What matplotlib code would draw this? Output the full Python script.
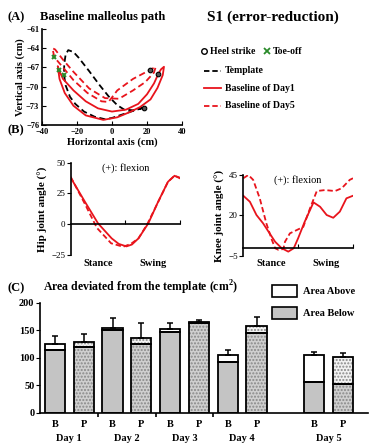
import matplotlib
matplotlib.use("Agg")
import matplotlib.pyplot as plt
from matplotlib.lines import Line2D
from matplotlib.patches import Rectangle
import numpy as np

plt.rcParams['font.family'] = ['Liberation Serif', 'DejaVu Serif']
plt.rcParams['mathtext.fontset'] = 'custom'
plt.rcParams['mathtext.rm'] = 'Liberation Serif'
plt.rcParams['mathtext.bf'] = 'Liberation Serif:bold'

# ---- panel A: malleolus path (cm) ----
tmpl_x = [18, 12, 6.5, 0, -4, -10, -16, -21, -24, -26.5, -27.4, -27.3, -26.5, -25,
          -22, -19, -13, -7, -2, 3, 7, 12, 18]
tmpl_y = [-73.3, -73.8, -74.3, -74.9, -75.1, -74.7, -73.9, -72.7, -71.6, -69.8, -68.2,
          -66.5, -65.0, -64.3, -64.6, -65.5, -67.6, -69.8, -71.5, -72.9, -73.6, -73.7, -73.3]
day1_x = [26.5, 28, 29.7, 29, 26, 22, 16, 10, 3, -5, -15, -22, -27, -30, -31, -30.3,
          -28, -22, -15, -8, 0, 8, 15, 20, 24, 26.5]
day1_y = [-68.0, -67.3, -66.9, -68.2, -70.2, -72.0, -73.2, -74.0, -74.8, -75.2, -74.5,
          -73.0, -71.0, -68.8, -66.8, -67.4, -68.8, -70.6, -72.3, -73.4, -73.9, -73.6,
          -72.7, -71.2, -69.5, -68.0]
day5_x = [-33, -34, -32.5, -28, -22, -13, -4, 4, 12, 19, 24, 25, 21.7, 12, 3, -2, -6,
          -14, -22, -28, -33]
day5_y = [-65.4, -64.0, -64.2, -65.8, -67.7, -70.3, -71.8, -71.9, -70.6, -69.3, -67.8,
          -66.9, -67.4, -68.8, -70.6, -72.4, -72.3, -71.0, -69.0, -67.0, -65.4]
heel_x = [18, 21.7, 26.5]
heel_y = [-73.3, -67.4, -68.0]
toe_x = [-27.4, -30.3, -33.1]
toe_y = [-68.2, -67.4, -65.4]

# ---- panel B: joint angles (% gait cycle, deg) ----
hip1_pct = [0, 13, 25, 37.5, 44, 51, 56, 62, 71, 80, 89, 95, 100]
hip1_deg = [37.8, 18.3, 0.7, -11.5, -16, -18.0, -16.5, -11.5, 0.7, 18.3, 34.5, 39.4, 37.3]
hip5_pct = [0, 13, 24, 37, 48, 55, 62, 70, 80, 89, 95, 100]
hip5_deg = [38.5, 16.5, -3.0, -15.5, -18.3, -16.0, -11.5, 0.0, 18.0, 34.5, 39.4, 37.8]

knee1_pct = [0, 6, 12, 18, 23, 29, 35, 41, 46, 50, 56, 64, 70, 76, 82, 88, 94, 100]
knee1_deg = [32.2, 28.5, 20.3, 15.2, 10.0, 3.8, -0.2, -2.3, -0.2, 6.0, 16.2, 28.1, 25.4,
             20.3, 18.6, 22.4, 30.6, 32.2]
knee5_pct = [0, 4.6, 9, 15, 21, 26, 29, 32, 36.5, 38, 42.5, 48.7, 54.7, 60.8, 67, 74.5,
             83.6, 89.7, 97, 100]
knee5_deg = [43, 45, 42, 30.6, 15.2, 5.0, -0.2, -1.2, -0.7, 3.8, 9.0, 11.0, 13.0, 24.4,
             35.1, 35.7, 35.1, 36.8, 42, 43]

# ---- panel C: area deviated (cm^2) ----
days = ['Day 1', 'Day 2', 'Day 3', 'Day 4', 'Day 5']
bar_labels = ['B', 'P'] * 5
area_below = [115, 119, 150, 125, 148, 164, 92, 146, 56, 52]
area_total = [125, 128, 155, 137, 152, 166, 106, 158, 106, 102]
area_err = [14, 15, 18, 26, 11, 3, 8, 16, 4, 7]

W, H = 369, 443
fig = plt.figure(figsize=(W / 100, H / 100), dpi=100)


def rect(l, t, r, b):
    return [l / W, 1 - b / H, (r - l) / W, (b - t) / H]


def ftext(x, y, s, **kw):
    fig.text(x / W, 1 - y / H, s, **kw)


red = '#e8141c'

# ===== A =====
axA = fig.add_axes(rect(42, 29, 182, 125))
axA.plot(tmpl_x, tmpl_y, color='black', ls=(0, (3.5, 2)), lw=1.3)
axA.plot(day1_x, day1_y, color=red, lw=1.3)
axA.plot(day5_x, day5_y, color=red, ls=(0, (3.5, 2)), lw=1.3)
axA.plot(heel_x, heel_y, 'o', ms=3.3, mfc='#555555', mec='black', mew=0.8)
axA.plot(toe_x, toe_y, 'x', ms=3.5, color='#2a8a2a', mew=1.4)
axA.set_xlim(-40, 40)
axA.set_ylim(-76, -61)
axA.set_xticks([-40, -20, 0, 20, 40])
axA.set_yticks([-61, -64, -67, -70, -73, -76])
axA.tick_params(direction='in', length=3, labelsize=6, pad=2)
for lab in axA.get_xticklabels() + axA.get_yticklabels():
    lab.set_fontweight('bold')
axA.spines['top'].set_visible(False)
axA.spines['right'].set_visible(False)
for s in axA.spines.values():
    s.set_linewidth(1.2)
axA.set_xlabel('Horizontal axis (cm)', fontsize=7.5, fontweight='bold', labelpad=1)
axA.set_ylabel('Vertical axis (cm)', fontsize=7.5, fontweight='bold', labelpad=1)

ftext(7, 17, '(A)', fontsize=9, fontweight='bold', va='center')
ftext(40, 17, 'Baseline malleolus path', fontsize=9, fontweight='bold', va='center')
ftext(273, 17, 'S1 (error-reduction)', fontsize=11, fontweight='bold', va='center', ha='center')

# legend for A
fig.add_artist(Line2D([204 / W], [1 - 50.7 / H], marker='o', ms=4, mfc='none',
                      mec='black', mew=1, ls='none'))
ftext(210, 51, 'Heel strike', fontsize=7, fontweight='bold', va='center')
fig.add_artist(Line2D([267 / W], [1 - 50.7 / H], marker='x', ms=4, color='#2a8a2a',
                      mew=1.3, ls='none'))
ftext(273, 51, 'Toe-off', fontsize=7, fontweight='bold', va='center')
leg_rows = [(70.7, 'black', (0, (3, 1.6)), 'Template'),
            (88.3, red, '-', 'Baseline of Day1'),
            (106, red, (0, (3, 1.6)), 'Baseline of Day5')]
for y, c, ls, txt in leg_rows:
    fig.add_artist(Line2D([204 / W, 221 / W], [1 - y / H, 1 - y / H], color=c, ls=ls, lw=1.3))
    ftext(225, y, txt, fontsize=7, fontweight='bold', va='center')

# ===== B =====
def joint_axes(box, pct1, deg1, pct5, deg5, ylim, yticks, ylabel):
    ax = fig.add_axes(box)
    ax.plot(pct1, deg1, color=red, lw=1.3)
    ax.plot(pct5, deg5, color=red, ls=(0, (3, 1.6)), lw=1.3)
    ax.set_xlim(0, 100)
    ax.set_ylim(*ylim)
    ax.set_yticks(yticks)
    ax.set_xticks([50, 100])
    ax.set_xticklabels([])
    ax.spines['top'].set_visible(False)
    ax.spines['right'].set_visible(False)
    ax.spines['bottom'].set_position(('data', 0))
    for s in ax.spines.values():
        s.set_linewidth(1.2)
    ax.tick_params(axis='x', direction='in', length=3)
    ax.tick_params(axis='y', direction='out', length=3, labelsize=6.5, pad=1)
    ax.set_ylabel(ylabel, fontsize=8, fontweight='bold', labelpad=2)
    ax.text(50, 1.0, '(+): flexion', transform=ax.get_xaxis_transform(),
            ha='center', va='top', fontsize=7.5)
    ax.text(25, -0.04, 'Stance', transform=ax.get_xaxis_transform(),
            ha='center', va='top', fontsize=7.5, fontweight='bold')
    ax.text(75, -0.04, 'Swing', transform=ax.get_xaxis_transform(),
            ha='center', va='top', fontsize=7.5, fontweight='bold')
    return ax


joint_axes(rect(70.7, 162.7, 180, 255), hip1_pct, hip1_deg, hip5_pct, hip5_deg,
           (-25, 50), [-25, 0, 25, 50], 'Hip joint angle (°)')
joint_axes(rect(243.3, 175, 353, 256), knee1_pct, knee1_deg, knee5_pct, knee5_deg,
           (-5, 45), [-5, 20, 45], 'Knee joint angle (°)')
ftext(7, 130, '(B)', fontsize=9, fontweight='bold', va='center')

# ===== C =====
axC = fig.add_axes(rect(40, 303, 368, 412.7))
pos = np.array([0, 1, 2, 3, 4, 5, 6, 7, 9, 10])
above = np.array(area_total) - np.array(area_below)
bw = 0.7
for i, x in enumerate(pos):
    is_p = bar_labels[i] == 'P'
    below_fc = '#c4c4c4' if not is_p else '#cfcfcf'
    above_fc = 'white' if not is_p else '#f2f2f2'
    axC.bar(x, area_below[i], bw, color=below_fc, lw=0, zorder=2)
    axC.bar(x, above[i], bw, bottom=area_below[i], color=above_fc, lw=0, zorder=2)
    if is_p:
        axC.bar(x, area_total[i], bw, color='none', edgecolor='#888888', lw=0,
                hatch='.....', zorder=3)
    axC.bar(x, area_below[i], bw, color='none', edgecolor='black', lw=1.3, zorder=4)
    axC.bar(x, above[i], bw, bottom=area_below[i], color='none', edgecolor='black',
            lw=1.3, zorder=4)
axC.errorbar(pos, area_total, yerr=[np.zeros(len(pos)), area_err], fmt='none',
             ecolor='black', elinewidth=1.1, capsize=2, capthick=1.1, zorder=5)
axC.set_xlim(-0.52, 10.87)
axC.set_ylim(0, 200)
axC.set_yticks([0, 50, 100, 150, 200])
axC.set_xticks(pos)
axC.set_xticklabels(bar_labels)
axC.set_xticks([1.5, 3.5, 5.5], minor=True)
axC.tick_params(axis='x', which='major', length=0, pad=5, labelsize=7.5)
axC.tick_params(axis='x', which='minor', length=3, direction='out', width=1.2)
axC.tick_params(axis='y', direction='out', length=3, labelsize=7.5, pad=1)
for lab in axC.get_xticklabels() + axC.get_yticklabels():
    lab.set_fontweight('bold')
axC.spines['top'].set_visible(False)
axC.spines['right'].set_visible(False)
for s in axC.spines.values():
    s.set_linewidth(1.2)
day_pos = [0.5, 2.5, 4.5, 6.5, 9.5]
for d, x in zip(days, day_pos):
    axC.text(x, -0.19, d, transform=axC.get_xaxis_transform(), ha='center', va='top',
             fontsize=7.5, fontweight='bold')

ftext(7, 288, '(C)', fontsize=9, fontweight='bold', va='center')
ftext(43, 288, r'Area deviated from the template (cm$^\mathbf{2}$)', fontsize=8.5,
      fontweight='bold', va='center')
for y, fc, txt in [(291, 'white', 'Area Above'), (313, '#c4c4c4', 'Area Below')]:
    fig.add_artist(Rectangle((272 / W, 1 - (y + 6) / H), 25 / W, 12 / H, facecolor=fc,
                             edgecolor='black', lw=1.2, transform=fig.transFigure))
    ftext(303, y, txt, fontsize=7.5, fontweight='bold', va='center')

fig.savefig('out.png', dpi=100)
